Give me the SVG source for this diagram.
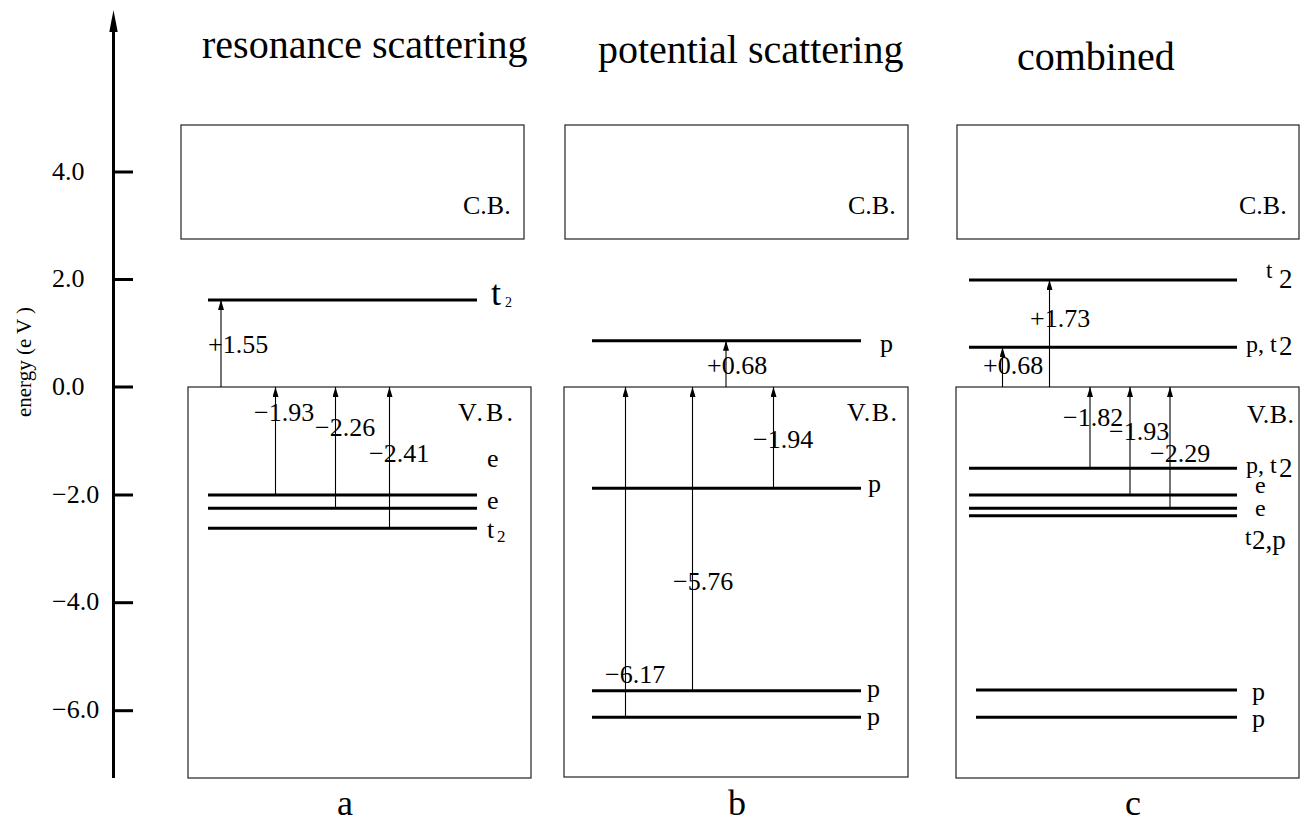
<svg xmlns="http://www.w3.org/2000/svg" width="1307" height="825" viewBox="0 0 1307 825">
<style>
text{font-family:"Liberation Serif","Times New Roman",serif;fill:#000}
.t26{font-size:26px}
.title{font-size:40px}
.big{font-size:36px}
.box{fill:none;stroke:#333;stroke-width:1.3}
.lvl{stroke:#000;stroke-width:3}
.arr{stroke:#000;stroke-width:1.1;fill:none;marker-end:url(#ah)}
.tick{stroke:#000;stroke-width:3}
</style>
<defs>
<marker id="ah" markerUnits="userSpaceOnUse" markerWidth="10" markerHeight="7" refX="10" refY="3" orient="auto">
<path d="M0,0 L10,3 L0,6 z" fill="#000"/>
</marker>
</defs>
<rect width="1307" height="825" fill="#fff"/>

<g id="axis">
<line x1="113.5" y1="778" x2="113.5" y2="28" stroke="#000" stroke-width="3"/>
<polygon points="113.5,10 109.3,32 117.7,32" fill="#000"/>
<line class="tick" x1="113" y1="172" x2="133" y2="172"/>
<line class="tick" x1="113" y1="279.5" x2="133" y2="279.5"/>
<line class="tick" x1="113" y1="387" x2="133" y2="387"/>
<line class="tick" x1="113" y1="495" x2="133" y2="495"/>
<line class="tick" x1="113" y1="602.7" x2="133" y2="602.7"/>
<line class="tick" x1="113" y1="710.7" x2="133" y2="710.7"/>
<text class="t26" x="52" y="180">4.0</text>
<text class="t26" x="52" y="287">2.0</text>
<text class="t26" x="52" y="395">0.0</text>
<text class="t26" x="52" y="502.5">−2.0</text>
<text class="t26" x="52" y="610">−4.0</text>
<text class="t26" x="52" y="718">−6.0</text>
<text x="31" y="362" font-size="21" text-anchor="middle" transform="rotate(-90 31 362)">energy (e V )</text>
</g>

<g id="panel-a">
<text class="title" x="202" y="58">resonance scattering</text>
<rect class="box" x="181" y="125" width="343" height="114"/>
<text class="t26" x="463" y="214">C.B.</text>
<rect class="box" x="188" y="387" width="343" height="391"/>
<text class="t26" x="458" y="421" textLength="55">V.B.</text>
<line class="lvl" x1="208" y1="300" x2="477" y2="300"/>
<line class="lvl" x1="208" y1="495" x2="477" y2="495"/>
<line class="lvl" x1="208" y1="508.3" x2="477" y2="508.3"/>
<line class="lvl" x1="208" y1="528.3" x2="477" y2="528.3"/>
<text class="big" x="491" y="304.5">t</text>
<text x="505" y="307" font-size="14">2</text>
<text class="t26" x="487" y="467">e</text>
<text class="t26" x="487" y="509">e</text>
<text class="t26" x="487" y="538">t</text>
<text x="497" y="542" font-size="17">2</text>
<text class="t26" x="208" y="353">+1.55</text>
<text class="t26" x="254" y="421">−1.93</text>
<text class="t26" x="315" y="436">−2.26</text>
<text class="t26" x="369" y="462">−2.41</text>
<text class="big" x="337" y="815">a</text>
</g>

<g id="panel-b">
<text class="title" x="598" y="63">potential scattering</text>
<rect class="box" x="565" y="125" width="343" height="114"/>
<text class="t26" x="848" y="214">C.B.</text>
<rect class="box" x="564" y="387" width="344" height="390"/>
<text class="t26" x="847" y="421" textLength="50">V.B.</text>
<line class="lvl" x1="592" y1="340.7" x2="861" y2="340.7"/>
<line class="lvl" x1="592" y1="488.3" x2="861" y2="488.3"/>
<line class="lvl" x1="592" y1="690.7" x2="861" y2="690.7"/>
<line class="lvl" x1="592" y1="717.3" x2="861" y2="717.3"/>
<text class="t26" x="880" y="352">p</text>
<text class="t26" x="868" y="492">p</text>
<text class="t26" x="867" y="697">p</text>
<text class="t26" x="867" y="725">p</text>
<text class="t26" x="707" y="374">+0.68</text>
<text class="t26" x="753" y="448">−1.94</text>
<text class="t26" x="673" y="590">−5.76</text>
<text class="t26" x="605" y="683">−6.17</text>
<text class="big" x="728" y="815">b</text>
</g>

<g id="panel-c">
<text class="title" x="1017" y="70">combined</text>
<rect class="box" x="957" y="125" width="342" height="114"/>
<text class="t26" x="1239" y="214">C.B.</text>
<rect class="box" x="956" y="387" width="343" height="391"/>
<text class="t26" x="1247" y="423" textLength="47">V.B.</text>
<line class="lvl" x1="969" y1="280" x2="1237" y2="280"/>
<line class="lvl" x1="969" y1="347.3" x2="1237" y2="347.3"/>
<line class="lvl" x1="969" y1="468.3" x2="1237" y2="468.3"/>
<line class="lvl" x1="969" y1="495" x2="1237" y2="495"/>
<line class="lvl" x1="969" y1="508.3" x2="1237" y2="508.3"/>
<line class="lvl" x1="969" y1="515.7" x2="1237" y2="515.7"/>
<line class="lvl" x1="976" y1="690" x2="1237" y2="690"/>
<line class="lvl" x1="976" y1="717.3" x2="1237" y2="717.3"/>
<text x="1266" y="278" font-size="23">t</text>
<text x="1279" y="288" font-size="27">2</text>
<text x="1246" y="352" font-size="24">p, t</text>
<text x="1279" y="355" font-size="27">2</text>
<text x="1246" y="473" font-size="24">p, t</text>
<text x="1279" y="477" font-size="27">2</text>
<text x="1255" y="493" font-size="24">e</text>
<text x="1255" y="516" font-size="24">e</text>
<text x="1245" y="545" font-size="23">t</text>
<text x="1252" y="549" font-size="27">2,p</text>
<text class="t26" x="1252" y="700">p</text>
<text class="t26" x="1252" y="727">p</text>
<text class="t26" x="983" y="374">+0.68</text>
<text class="t26" x="1030" y="327">+1.73</text>
<text class="t26" x="1063" y="426">−1.82</text>
<text class="t26" x="1109" y="440">−1.93</text>
<text class="t26" x="1150" y="462">−2.29</text>
<text class="big" x="1125" y="815">c</text>
</g>

<g id="connectors">
<line class="arr" x1="221" y1="387" x2="221" y2="300"/>
<line class="arr" x1="275.5" y1="495" x2="275.5" y2="387"/>
<line class="arr" x1="335.5" y1="508.3" x2="335.5" y2="387"/>
<line class="arr" x1="389.5" y1="528.3" x2="389.5" y2="387"/>
<line class="arr" x1="726" y1="387" x2="726" y2="340.7"/>
<line class="arr" x1="625.5" y1="717.3" x2="625.5" y2="387"/>
<line class="arr" x1="692.5" y1="690.7" x2="692.5" y2="387"/>
<line class="arr" x1="773.5" y1="488.3" x2="773.5" y2="387"/>
<line class="arr" x1="1002.5" y1="387" x2="1002.5" y2="347.3"/>
<line class="arr" x1="1049.5" y1="387" x2="1049.5" y2="280"/>
<line class="arr" x1="1090" y1="468.3" x2="1090" y2="387"/>
<line class="arr" x1="1130" y1="495" x2="1130" y2="387"/>
<line class="arr" x1="1170" y1="508.3" x2="1170" y2="387"/>
</g>
</svg>
